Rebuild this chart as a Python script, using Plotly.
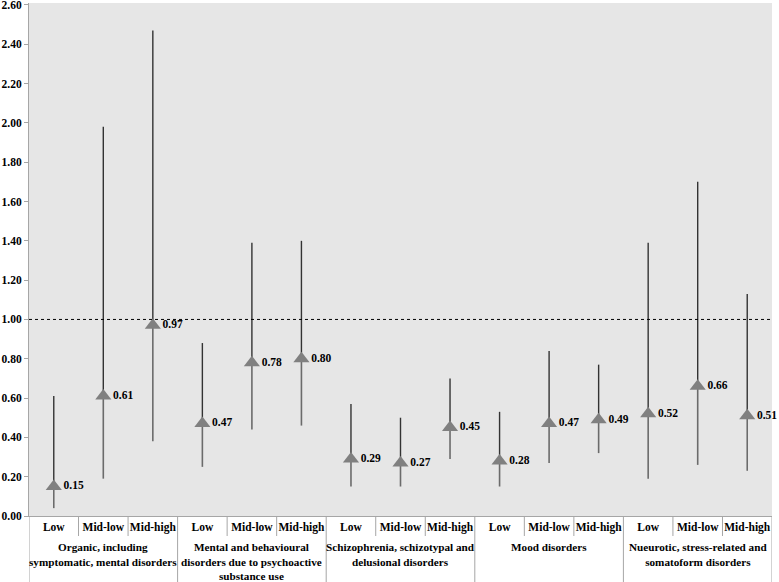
import plotly.graph_objects as go

groups = [
    "Organic, including<br>symptomatic, mental disorders",
    "Mental and behavioural<br>disorders due to psychoactive<br>substance use",
    "Schizophrenia, schizotypal and<br>delusional disorders",
    "Mood disorders",
    "Nueurotic, stress-related and<br>somatoform disorders",
]
levels = ["Low", "Mid-low", "Mid-high"]

estimates = [0.15, 0.61, 0.97, 0.47, 0.78, 0.80, 0.29, 0.27, 0.45, 0.28, 0.47, 0.49, 0.52, 0.66, 0.51]
lower = [0.04, 0.19, 0.38, 0.25, 0.44, 0.46, 0.15, 0.15, 0.29, 0.15, 0.27, 0.32, 0.19, 0.26, 0.23]
upper = [0.61, 1.98, 2.47, 0.88, 1.39, 1.40, 0.57, 0.50, 0.70, 0.53, 0.84, 0.77, 1.39, 1.70, 1.13]
y_ticks = [round(0.2 * i, 2) for i in range(14)]

n = len(estimates)
xs = list(range(n))
sub_labels = [levels[i % 3] for i in range(n)]
plus = [u - e for u, e in zip(upper, estimates)]
minus = [e - l for e, l in zip(estimates, lower)]

FONT = "Liberation Serif"
FS = 11.5
fig = go.Figure()

# lower part of CI (medium gray)
fig.add_trace(go.Scatter(
    x=xs, y=estimates, mode="markers",
    marker=dict(size=0.1, color="rgba(0,0,0,0)"),
    error_y=dict(type="data", symmetric=False, array=[0] * n, arrayminus=minus,
                 color="#6b6b6b", thickness=1.6, width=0),
    hoverinfo="skip", showlegend=False,
))
# upper part of CI (dark gray)
fig.add_trace(go.Scatter(
    x=xs, y=estimates, mode="markers",
    marker=dict(size=0.1, color="rgba(0,0,0,0)"),
    error_y=dict(type="data", symmetric=False, array=plus, arrayminus=[0] * n,
                 color="#333333", thickness=1.4, width=0),
    hoverinfo="skip", showlegend=False,
))
# point estimates
fig.add_trace(go.Scatter(
    x=xs, y=estimates, mode="markers+text",
    marker=dict(symbol="triangle-up", size=14, color="#808080"),
    text=[f"<b>{v:.2f}</b>" for v in estimates],
    textposition="middle right",
    textfont=dict(family=FONT, size=FS, color="#000000"),
    cliponaxis=False,
    hoverinfo="skip",
    showlegend=False,
))

# reference line at 1.00
fig.add_shape(type="line", xref="paper", x0=0, x1=1, yref="y", y0=1, y1=1,
              line=dict(color="#000000", width=1, dash="dot"))

# category dividers
for b in range(n + 1):
    xb = b - 0.5
    long = (b % 3 == 0)
    fig.add_shape(type="line", xref="x", x0=xb, x1=xb, yref="paper", y0=0,
                  y1=-0.13 if long else -0.039,
                  line=dict(color="#a6a6a6", width=1))

# group labels
for g, name in enumerate(groups):
    fig.add_annotation(x=g * 3 + 1, xref="x", y=0, yref="paper", yanchor="top",
                       yshift=-23, text=f"<b>{name}</b>", showarrow=False, align="center",
                       font=dict(family=FONT, size=11.2, color="#000000"))

fig.update_layout(
    width=779, height=582,
    margin=dict(l=29, r=7, t=3, b=66, autoexpand=False),
    plot_bgcolor="#e6e6e6", paper_bgcolor="#ffffff",
    font=dict(family=FONT, size=FS, color="#000000"),
)
fig.update_xaxes(
    range=[-0.5, n - 0.5], tickvals=xs, ticktext=[f"<b>{s}</b>" for s in sub_labels],
    tickangle=0, automargin=False,
    showgrid=False, zeroline=False, showline=True, linecolor="#a6a6a6", linewidth=1,
    ticks="", tickfont=dict(family=FONT, size=FS, color="#000000"),
)
fig.update_yaxes(
    range=[0, 2.61], tickvals=y_ticks, ticktext=[f"<b>{v:.2f}</b>" for v in y_ticks],
    automargin=False, ticklabeloverflow="allow",
    showgrid=False, zeroline=False, showline=True, linecolor="#a6a6a6", linewidth=1,
    ticks="outside", ticklen=4, tickcolor="#a6a6a6",
    tickfont=dict(family=FONT, size=FS, color="#000000"),
)

fig.write_html("out.html", config={"displayModeBar": False},
               post_script="document.body.style.margin='0';")
